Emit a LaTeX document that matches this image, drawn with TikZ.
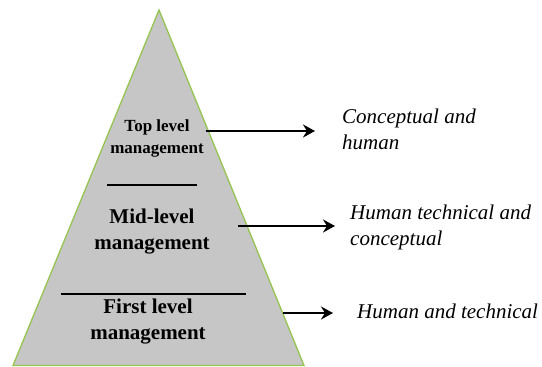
\documentclass[tikz,border=0pt]{standalone}
\usepackage{fontspec}
\setmainfont{Liberation Serif}
\usetikzlibrary{arrows.meta}
\usetikzlibrary{positioning}
\definecolor{pyrfill}{RGB}{198,198,198}
\definecolor{pyredge}{RGB}{150,196,80}

\tikzset{
	level/.style={align=center, font=\bfseries\fontsize{21}{26}\selectfont, inner sep=0pt},
	skill/.style={align=left, anchor=west, font=\itshape\fontsize{21}{26}\selectfont, inner sep=0pt},
	arr/.style={-{Stealth[length=12pt,width=13pt,inset=4pt]}, line width=2pt},
	sep/.style={line width=1.4pt}
}

\begin{document}
\begin{tikzpicture}[x=1pt,y=1pt]
	\useasboundingbox (0,0) rectangle (542,367);
	
	% pyramid
	\coordinate (apex) at (159,357);
	\coordinate (bl) at (13,1.5);
	\coordinate (br) at (304,1.5);
	\filldraw[fill=pyrfill, draw=pyredge, line width=1.3pt] (bl) -- (apex) -- (br) -- cycle;
	
	\node[level, font=\bfseries\fontsize{17}{22}\selectfont](top) at (157,229){Top level\\management};
	\node[level](mid) at (152,135){Mid-level\\management};
	\node[level](first) at (148,45){First level\\management};
	
	% separators
	\coordinate (s1a) at (107,182);
	\coordinate (s1b) at (197,182);
	\coordinate (s2a) at (61,73);
	\coordinate (s2b) at (246,73);
	\draw[sep] (s1a) -- (s1b);
	\draw[sep] (s2a) -- (s2b);
	
	% arrows
	\coordinate (top_a) at (206,236);
	\coordinate (top_t) at (315,236);
	\coordinate (mid_a) at (238,141);
	\coordinate (mid_t) at (335,141);
	\coordinate (first_a) at (283,54);
	\coordinate (first_t) at (333,54);
	
	\draw[arr] (top_a) -- (top_t);
	\draw[arr] (mid_a) -- (mid_t);
	\draw[arr] (first_a) -- (first_t);
	
	\node[skill, right=27pt of top_t, yshift=2pt](top_s){Conceptual and\\human};
	\node[skill, right=15pt of mid_t, yshift=-1pt](mid_s){Human technical and\\conceptual};
	\node[skill, right=24pt of first_t, yshift=2pt](first_s){Human and technical};
\end{tikzpicture}
\end{document}
